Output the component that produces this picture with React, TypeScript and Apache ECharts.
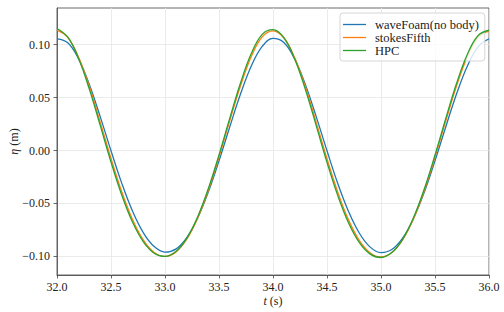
import React, { useEffect, useRef } from "react";
import * as echarts from "echarts";

const times = [
  32.0, 32.1, 32.2, 32.3, 32.4, 32.5, 32.6, 32.7, 32.8, 32.9,
  33.0, 33.1, 33.2, 33.3, 33.4, 33.5, 33.6, 33.7, 33.8, 33.9,
  34.0, 34.1, 34.2, 34.3, 34.4, 34.5, 34.6, 34.7, 34.8, 34.9,
  35.0, 35.1, 35.2, 35.3, 35.4, 35.5, 35.6, 35.7, 35.8, 35.9,
  36.0,
];

const waveFoam = [
  0.1054, 0.1017, 0.0864, 0.0621, 0.0320, -0.0002, -0.0310, -0.0574, -0.0777, -0.0907,
  -0.0959, -0.0931, -0.0824, -0.0642, -0.0395, -0.0097, 0.0224, 0.0535, 0.0799, 0.0982,
  0.1058, 0.1020, 0.0866, 0.0622, 0.0320, -0.0003, -0.0312, -0.0577, -0.0781, -0.0912,
  -0.0963, -0.0935, -0.0827, -0.0644, -0.0396, -0.0097, 0.0224, 0.0535, 0.0798, 0.0980,
  0.1055,
];

const stokesFifth = [
  0.1136, 0.1068, 0.0880, 0.0601, 0.0268, -0.0075, -0.0391, -0.0653, -0.0846, -0.0962,
  -0.1000, -0.0959, -0.0840, -0.0644, -0.0379, -0.0061, 0.0282, 0.0613, 0.0890, 0.1073,
  0.1130, 0.1064, 0.0877, 0.0599, 0.0266, -0.0078, -0.0394, -0.0657, -0.0851, -0.0967,
  -0.1005, -0.0963, -0.0844, -0.0647, -0.0381, -0.0062, 0.0280, 0.0610, 0.0884, 0.1066,
  0.1128,
];

const hpc = [
  0.1152, 0.1069, 0.0868, 0.0577, 0.0237, -0.0109, -0.0422, -0.0678, -0.0862, -0.0969,
  -0.1000, -0.0954, -0.0831, -0.0632, -0.0363, -0.0041, 0.0306, 0.0640, 0.0917, 0.1096,
  0.1140, 0.1065, 0.0865, 0.0575, 0.0235, -0.0112, -0.0426, -0.0684, -0.0870, -0.0978,
  -0.1010, -0.0963, -0.0838, -0.0636, -0.0366, -0.0043, 0.0303, 0.0634, 0.0908, 0.1085,
  0.1135,
];

const seriesNames = ["waveFoam(no body)", "stokesFifth", "HPC"];
const seriesColors = ["#1f77b4", "#ff7f0e", "#2ca02c"];
const yTicks = [-0.1, -0.05, 0, 0.05, 0.1];

const FONT = "Liberation Serif";

export default function App() {
  const ref = useRef<HTMLDivElement>(null);

  useEffect(() => {
    if (!ref.current) return;
    const chart = echarts.init(ref.current, null, { renderer: "svg" });
    const allSeries = [waveFoam, stokesFifth, hpc];
    const fmtY = (v: number) =>
      (v < -1e-9 ? "\u2212" : "") + Math.abs(v).toFixed(2);

    chart.setOption({
      animation: false,
      backgroundColor: "#ffffff",
      textStyle: { fontFamily: FONT },
      grid: {
        left: 57,
        right: 15,
        top: 8,
        bottom: 37,
        show: true,
        borderColor: "#444",
        borderWidth: 0.8,
        containLabel: false,
        outerBoundsMode: "none",
      },
      legend: {
        orient: "vertical",
        left: 340,
        top: 13,
        padding: [5, 6, 4, 3],
        itemWidth: 23,
        itemHeight: 1.3,
        itemGap: 0,
        icon: "rect",
        backgroundColor: "rgba(255,255,255,0.8)",
        borderColor: "#d6d6d6",
        borderWidth: 1,
        borderRadius: 3,
        textStyle: {
          fontFamily: FONT,
          fontSize: 12.5,
          color: "#222",
          lineHeight: 11,
          padding: [0, 0, 0, 4],
        },
        data: seriesNames,
      },
      xAxis: {
        type: "value",
        min: 32,
        max: 36,
        interval: 0.5,
        name: "{i|t} (s)",
        nameLocation: "middle",
        nameGap: 20,
        nameMoveOverlap: false,
        nameTextStyle: {
          fontFamily: FONT,
          fontSize: 12,
          color: "#222",
          rich: {
            i: { fontFamily: FONT, fontStyle: "italic", fontSize: 12, color: "#222" },
          },
        },
        axisLine: { show: true, onZero: false, lineStyle: { color: "#444", width: 0.8 } },
        axisTick: { show: true, length: 3.5, lineStyle: { color: "#444", width: 0.8 } },
        axisLabel: {
          margin: 6,
          fontFamily: FONT,
          fontSize: 12,
          color: "#222",
          formatter: (v: number) => v.toFixed(1),
        },
        splitLine: { show: true, lineStyle: { color: "#e6e6e6", width: 0.8 } },
      },
      yAxis: {
        type: "value",
        min: -0.1175,
        max: 0.1345,
        name: "{i|\u03b7} (m)",
        nameLocation: "middle",
        nameGap: 37,
        nameMoveOverlap: false,
        nameTextStyle: {
          fontFamily: FONT,
          fontSize: 12,
          color: "#222",
          rich: {
            i: { fontFamily: FONT, fontStyle: "italic", fontSize: 12, color: "#222" },
          },
        },
        axisLine: { show: true, onZero: false, lineStyle: { color: "#444", width: 0.8 } },
        axisTick: {
          show: true,
          length: 3.5,
          customValues: yTicks,
          lineStyle: { color: "#444", width: 0.8 },
        },
        axisLabel: {
          margin: 7,
          fontFamily: FONT,
          fontSize: 12,
          color: "#222",
          customValues: yTicks,
          formatter: (v: number) => fmtY(v),
        },
        splitLine: { show: true, lineStyle: { color: "#e6e6e6", width: 0.8 } },
      },
      series: allSeries.map((vals, i) => ({
        name: seriesNames[i],
        type: "line",
        data: times.map((t, j) => [t, vals[j]]),
        smooth: 0.4,
        showSymbol: false,
        symbol: "none",
        clip: true,
        color: seriesColors[i],
        lineStyle: { color: seriesColors[i], width: 1.3 },
        z: 2 + i,
      })),
    });

    return () => chart.dispose();
  }, []);

  return (
    <div
      ref={ref}
      style={{ position: "fixed", left: 0, top: 0, width: 504, height: 312, background: "#fff" }}
    />
  );
}
